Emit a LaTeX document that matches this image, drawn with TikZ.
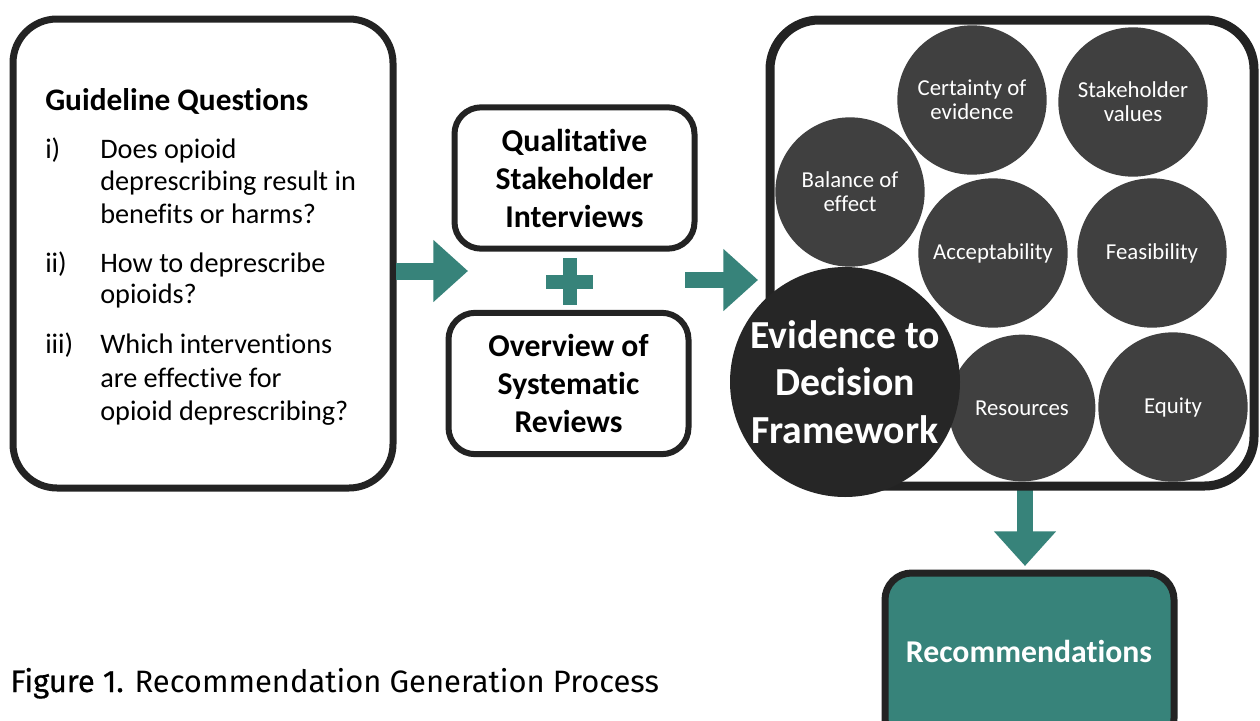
\documentclass[tikz,border=0pt]{standalone}
\usepackage{fontspec}
\setmainfont{Carlito}[Ligatures=NoCommon]
\newfontfamily\capfont{Fira Sans}
\newfontfamily\capmed{Fira Sans}[FakeBold=0.6]
\usetikzlibrary{arrows.meta}
\definecolor{ink}{HTML}{232323}
\definecolor{ball}{HTML}{404040}
\definecolor{core}{HTML}{262626}
\definecolor{teal}{HTML}{37837A}
\newcommand\fsz[2]{\fontsize{#1pt}{#2pt}\selectfont}
\tikzset{
  frame/.style={draw=ink, line width=5.25pt, rounded corners=33pt, inner sep=0pt},
  midbox/.style={draw=ink, line width=4.5pt, rounded corners=20pt, inner sep=0pt,
    minimum width=180pt, minimum height=106pt, align=center,
    font=\fsz{23.8}{28.5}\bfseries},
  ball/.style={circle, fill=ball, minimum size=112pt, inner sep=0pt, text=white,
    align=center, font=\fsz{17.1}{18}},
  txt/.style={anchor=base west, inner sep=0pt, font=\fsz{21.2}{24}},
  flow/.style={draw=teal, line width=#1, -{Triangle[width=45pt,length=26pt]}},
}
\begin{document}
\begin{tikzpicture}[x=0.75pt,y=-0.75pt]
\useasboundingbox (0,0) rectangle (1260,721);
\fill[white] (0,0) rectangle (1260,721);

% guideline questions panel
\node[frame, minimum width=285pt, minimum height=351.75pt] (gq) at (203,253.5) {};
\node[txt, font=\fsz{23.5}{24}\bfseries] (gqt) at (45,110) {Guideline Questions};
\node[txt] (l1) at (45,158) {i)};
\node[txt] (l2) at (45,272) {ii)};
\node[txt] (l3) at (45,353) {iii)};
\foreach \y/\t [count=\k] in {158/Does opioid, 190/deprescribing result in,
    223/benefits or harms?, 272/How to deprescribe, 303/opioids?,
    353/Which interventions, 387/are effective for, 420/opioid deprescribing?}
  \node[txt] (q\k) at (100,\y) {\t};

% evidence sources
\node[midbox] (qsi) at (574.5,178) {Qualitative\\Stakeholder\\Interviews};
\node[midbox] (osr) at (568.5,383.5) {Overview of\\Systematic\\Reviews};
\fill[teal] (546,275) rectangle (593,289);
\fill[teal] (563,258) rectangle (577,305);

% arrows between stages
\coordinate (a1s) at (396,271);
\coordinate (a1e) at (468,271);
\draw[flow=12.75pt] (a1s) -- (a1e);
\coordinate (a2s) at (685,280);
\coordinate (a2e) at (758,280);
\draw[flow=11.5pt] (a2s) -- (a2e);
\coordinate (a3s) at (1025,484);
\coordinate (a3e) at (1025,566);
\draw[flow=12pt] (a3s) -- (a3e);

% evidence-to-decision panel
\node[frame, line width=6.75pt, rounded corners=37pt, minimum width=363pt,
  minimum height=349.5pt] (etd) at (1012,253) {};
\node[ball] (cert) at (972,100) {Certainty of\\evidence};
\node[ball] (vals) at (1133,102) {Stakeholder\\values};
\node[ball] (bal) at (850,192) {Balance of\\effect};
\node[ball] (acc) at (993,253) {Acceptability};
\node[ball] (feas) at (1152,253) {Feasibility};
\node[ball, minimum size=110pt] (res) at (1022,408) {Resources};
\node[ball] (eq) at (1173,407) {Equity};
\node[circle, fill=core, minimum size=172.5pt, inner sep=0pt, text=white,
  align=center, font=\fsz{29.8}{35.6}\bfseries] (core) at (845,382)
  {Evidence to\\Decision\\Framework};

% outcome
\node[frame, fill=teal, rounded corners=20pt, minimum width=216.75pt,
  minimum height=129pt] (rec) at (1029.5,659) {};
\node[inner sep=0pt, text=white, font=\fsz{23.8}{24}\bfseries] (rect) at (1029,651)
  {Recommendations};

% caption
\node[anchor=base west, inner sep=0pt, font=\capfont\fsz{23.2}{24}] (cap) at (10,692)
  {{\capmed Figure 1.} Recommendation Generation Process};
\end{tikzpicture}
\end{document}
